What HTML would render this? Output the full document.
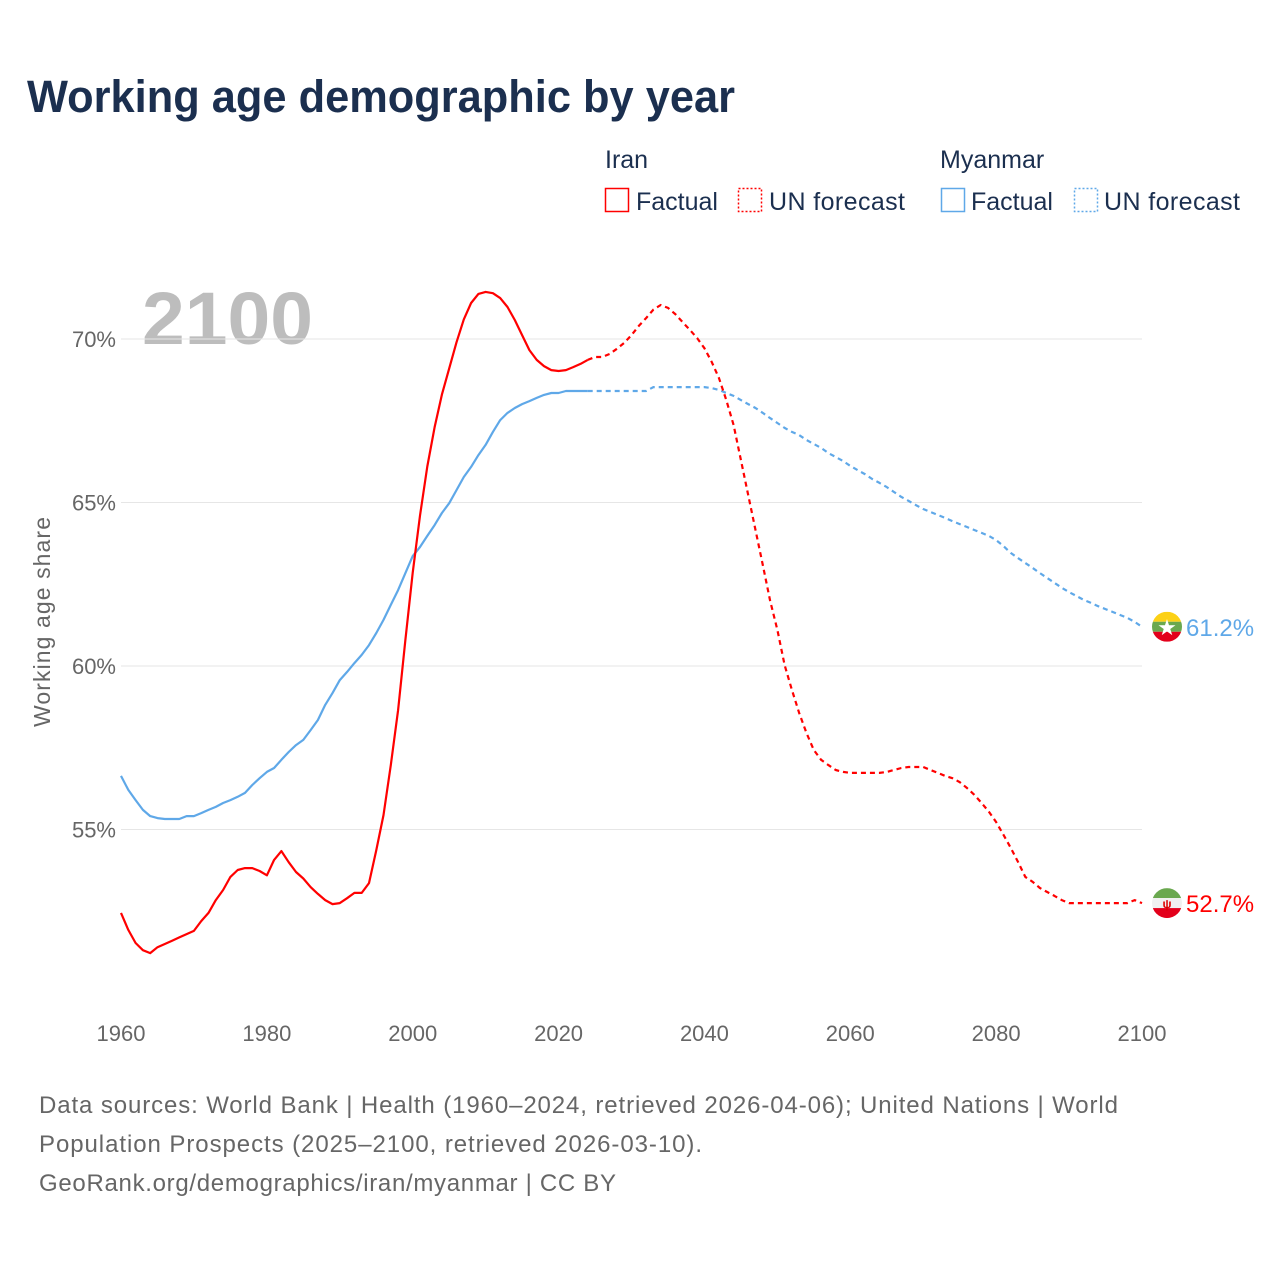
<!DOCTYPE html>
<html><head><meta charset="utf-8"><style>
html,body{margin:0;padding:0;background:#fff;width:1280px;height:1280px;overflow:hidden}
svg{display:block;font-family:"Liberation Sans",sans-serif}
</style></head><body>
<svg id="chart" width="1280" height="1280" viewBox="0 0 1280 1280">
<text x="27" y="112" font-size="45" font-weight="bold" fill="#1b2f4f" textLength="708" lengthAdjust="spacingAndGlyphs">Working age demographic by year</text>
<g font-size="25" fill="#1b2f4f">
<text x="605" y="168">Iran</text>
<rect x="605.5" y="188.5" width="23" height="23" fill="none" stroke="#ff0000" stroke-width="1.5"/>
<text x="636" y="210">Factual</text>
<rect x="738.5" y="188.5" width="23" height="23" fill="none" stroke="#ff0000" stroke-width="1.5" stroke-dasharray="2,2"/>
<text x="769" y="210" textLength="136">UN forecast</text>
<text x="940" y="168">Myanmar</text>
<rect x="941.5" y="188.5" width="23" height="23" fill="none" stroke="#5fa8e8" stroke-width="1.5"/>
<text x="971" y="210">Factual</text>
<rect x="1074.5" y="188.5" width="23" height="23" fill="none" stroke="#5fa8e8" stroke-width="1.5" stroke-dasharray="2,2"/>
<text x="1104" y="210" textLength="136">UN forecast</text>
</g>
<text x="142" y="344" font-size="74" font-weight="bold" fill="#bdbdbd" textLength="171" lengthAdjust="spacingAndGlyphs">2100</text>
<text transform="translate(50,622) rotate(-90)" text-anchor="middle" font-size="23" fill="#666" textLength="210">Working age share</text>
<g id="grid"></g><g id="series"></g><g id="xaxis"></g>
<g font-size="24" fill="#666">
<text x="39" y="1113" textLength="1079">Data sources: World Bank | Health (1960–2024, retrieved 2026-04-06); United Nations | World</text>
<text x="39" y="1152" textLength="663">Population Prospects (2025–2100, retrieved 2026-03-10).</text>
<text x="39" y="1191" textLength="577">GeoRank.org/demographics/iran/myanmar | CC BY</text>
</g>
</svg>
<script>
const yTicks=[55,60,65,70];
const xTicks=[1960,1980,2000,2020,2040,2060,2080,2100];
const iranFactual=[52.45,51.93,51.53,51.31,51.22,51.4,51.5,51.6,51.7,51.8,51.9,52.2,52.45,52.84,53.15,53.55,53.76,53.82,53.82,53.73,53.6,54.07,54.34,54.0,53.7,53.5,53.24,53.03,52.84,52.72,52.75,52.9,53.06,53.06,53.36,54.37,55.44,56.97,58.65,60.8,62.85,64.6,66.1,67.3,68.3,69.1,69.9,70.6,71.1,71.38,71.44,71.4,71.25,70.98,70.58,70.12,69.66,69.36,69.17,69.05,69.02,69.05,69.14,69.24,69.36];
const iranForecast=[69.45,69.45,69.54,69.7,69.88,70.12,70.4,70.64,70.9,71.04,70.95,70.76,70.52,70.28,70.03,69.72,69.3,68.8,68.13,67.37,66.3,65.23,64.16,63.09,62.0,61.1,60.03,59.27,58.56,57.95,57.43,57.13,56.97,56.82,56.76,56.73,56.73,56.73,56.73,56.73,56.76,56.82,56.88,56.91,56.91,56.91,56.82,56.73,56.64,56.57,56.45,56.27,56.06,55.81,55.54,55.23,54.84,54.44,54.01,53.55,53.4,53.21,53.09,52.97,52.84,52.75,52.75,52.75,52.75,52.75,52.75,52.75,52.75,52.75,52.84,52.75];
const myanmarFactual=[56.64,56.21,55.9,55.6,55.41,55.35,55.32,55.32,55.32,55.41,55.41,55.5,55.6,55.69,55.81,55.9,56.0,56.12,56.36,56.57,56.76,56.88,57.13,57.37,57.58,57.74,58.04,58.35,58.81,59.17,59.57,59.82,60.09,60.34,60.64,61.01,61.41,61.87,62.32,62.84,63.36,63.64,63.98,64.31,64.68,64.98,65.38,65.78,66.09,66.45,66.76,67.16,67.52,67.74,67.89,68.01,68.1,68.2,68.29,68.35,68.35,68.41,68.41,68.41,68.41];
const myanmarForecast=[68.41,68.41,68.41,68.41,68.41,68.41,68.41,68.41,68.53,68.53,68.53,68.53,68.53,68.53,68.53,68.53,68.5,68.44,68.35,68.26,68.13,68.01,67.89,67.74,67.58,67.43,67.28,67.16,67.06,66.91,66.79,66.67,66.51,66.39,66.27,66.12,65.99,65.87,65.72,65.6,65.47,65.32,65.17,65.05,64.92,64.8,64.71,64.62,64.53,64.43,64.34,64.25,64.16,64.07,63.98,63.85,63.67,63.46,63.3,63.15,63.0,62.84,62.69,62.54,62.39,62.26,62.14,62.02,61.93,61.83,61.74,61.65,61.56,61.47,61.35,61.2];
const factualStart=1960, forecastStart=2025;
const endLabels=["61.2%","52.7%"];

const NS="http://www.w3.org/2000/svg";
const X0=121,X1=1142,Y0=1960,Y1=2100;
const xs=y=>X0+(y-Y0)*(X1-X0)/(Y1-Y0);
const ys=v=>339+(70-v)*(666-339)/10;
function mk(tag,attrs,parent){const e=document.createElementNS(NS,tag);for(const k in attrs)e.setAttribute(k,attrs[k]);parent.appendChild(e);return e;}
const grid=document.getElementById('grid');
yTicks.forEach(t=>{
  const l=mk('line',{x1:X0,x2:X1,y1:ys(t),y2:ys(t),stroke:'#e6e6e6','stroke-width':1},grid);
  
  
  const tx=mk('text',{x:116,y:ys(t)+8,'text-anchor':'end','font-size':22,fill:'#666'},grid);
  tx.textContent=t+'%';
  
  
});
const xa=document.getElementById('xaxis');
xTicks.forEach(t=>{
  const tx=mk('text',{x:xs(t),y:1041,'text-anchor':'middle','font-size':22,fill:'#666'},xa);
  tx.textContent=t;
  
  
});
const sg=document.getElementById('series');
function line(pts,color,dash,name){
  const d=pts.map((p,i)=>(i?'L':'M')+xs(p[0]).toFixed(1)+','+ys(p[1]).toFixed(1)).join('');
  const p=mk('path',{d:d,fill:'none',stroke:color,'stroke-width':2.2,'stroke-linejoin':'round'},sg);
  if(dash)p.setAttribute('stroke-dasharray','5,4');
  
  
}
const toPts=(vals,start)=>vals.map((v,i)=>[start+i,v]);
const mf=toPts(myanmarFactual,factualStart), mfc=toPts(myanmarForecast,forecastStart);
const inf=toPts(iranFactual,factualStart), ifc=toPts(iranForecast,forecastStart);
line(mf,'#5fa8e8',false,'myanmar-factual-line');
line([mf[mf.length-1]].concat(mfc),'#5fa8e8',true,'myanmar-forecast-line');
line(inf,'#ff0000',false,'iran-factual-line');
line([inf[inf.length-1]].concat(ifc),'#ff0000',true,'iran-forecast-line');
const mEnd=ys(myanmarForecast[myanmarForecast.length-1]), iEnd=ys(iranForecast[iranForecast.length-1]);
function flag(cy,stripes,name){
  const g=mk('g',{},sg);
  
  
  const id='c'+name;
  const cp=mk('clipPath',{id:id},g);mk('circle',{cx:1167,cy:cy,r:15},cp);
  stripes.forEach((c,i)=>mk('rect',{x:1152,y:cy-15+i*10,width:30,height:10,fill:c,'clip-path':'url(#'+id+')'},g));
  return g;
}
const fm=flag(mEnd,['#fcd116','#6aa84f','#e3001b'],'myanmar-flag');
mk('text',{x:1167,y:mEnd+8,'text-anchor':'middle','font-size':22,fill:'#fff'},fm).textContent='★';
const fi=flag(iEnd,['#6aa84f','#f0f0f0','#e3001b'],'iran-flag');
mk('text',{x:1167,y:iEnd+5,'text-anchor':'middle','font-size':12,fill:'#d00','font-weight':'bold'},fi).textContent='ψ';
const lm=mk('text',{x:1186,y:mEnd+9,'font-size':24,fill:'#5fa8e8'},sg);
lm.textContent=endLabels[0];


const li=mk('text',{x:1186,y:iEnd+9,'font-size':24,fill:'#ff0000'},sg);
li.textContent=endLabels[1];


</script>
</body></html>
